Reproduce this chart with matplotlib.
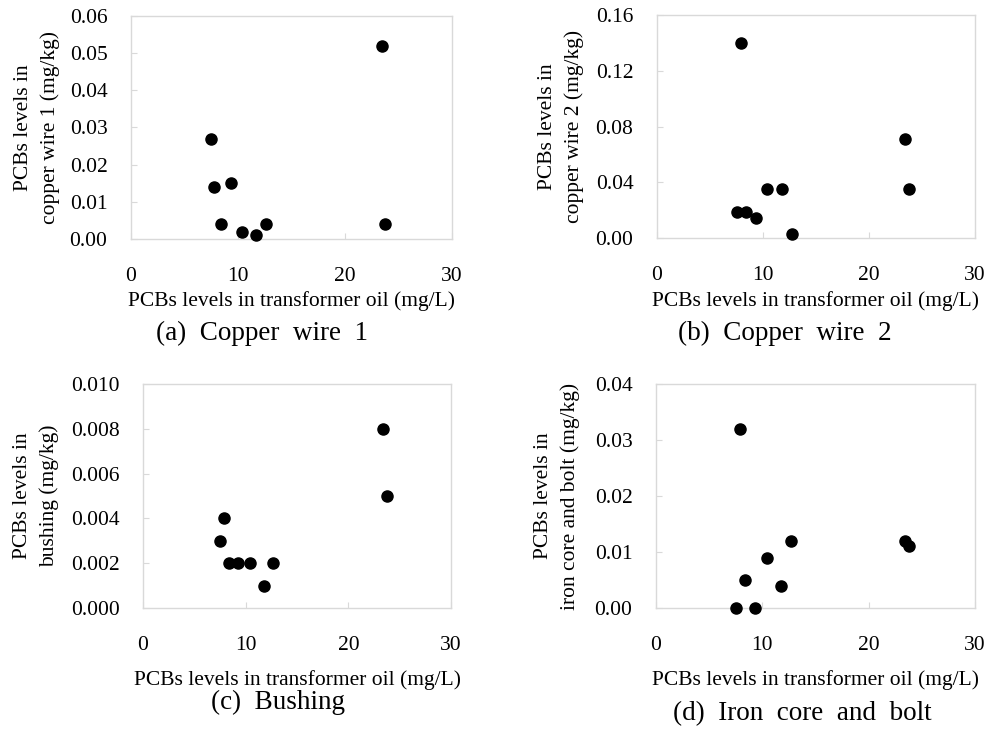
import matplotlib
matplotlib.use('Agg')
import matplotlib.pyplot as plt
import numpy as np

plt.rcParams['font.family'] = ['Liberation Serif', 'DejaVu Serif']

# PCB levels in transformer oil (mg/L), shared by all panels
oil = [7.5, 7.9, 8.4, 9.3, 10.4, 11.8, 12.7, 23.4, 23.8]
oil_a = [7.5, 7.8, 8.4, 9.3, 10.4, 11.7, 12.6, 23.5, 23.7]

copper1 = [0.027, 0.014, 0.004, 0.015, 0.002, 0.001, 0.004, 0.052, 0.004]
copper2 = [0.019, 0.140, 0.019, 0.014, 0.035, 0.035, 0.003, 0.071, 0.035]
bushing = [0.003, 0.004, 0.002, 0.002, 0.002, 0.001, 0.002, 0.008, 0.005]
iron = [0.000, 0.032, 0.005, 0.000, 0.009, 0.004, 0.012, 0.012, 0.011]

xticks = [0, 10, 20, 30]
ylabels = ['PCBs levels in\ncopper wire 1 (mg/kg)',
           'PCBs levels in\ncopper wire 2 (mg/kg)',
           'PCBs levels in\nbushing (mg/kg)',
           'PCBs levels in\niron core and bolt (mg/kg)']
captions = ['(a)  Copper  wire  1', '(b)  Copper  wire  2',
            '(c)  Bushing', '(d)  Iron  core  and  bolt']
xlabel = 'PCBs levels in transformer oil (mg/L)'

W, H = 991, 731
fig = plt.figure(figsize=(W / 100, H / 100), dpi=100)

def box(l, t, r, b):
    return [l / W, 1 - b / H, (r - l) / W, (b - t) / H]

panels = [
    # box, x, y, yticks, fmt, ylabel x, xlabel baseline, caption (x, baseline)
    (box(131, 16, 452, 239), oil_a, copper1, np.arange(0, 0.061, 0.01), '%.2f', 37, 306, (262, 340)),
    (box(657, 15, 975, 238), oil, copper2, np.arange(0, 0.161, 0.04), '%.2f', 561, 306, (785, 340)),
    (box(143, 384, 451, 608), oil, bushing, np.arange(0, 0.0101, 0.002), '%.3f', 36, 685, (278, 709)),
    (box(656, 384, 975, 608), oil, iron, np.arange(0, 0.041, 0.01), '%.2f', 557, 685, (802, 720)),
]

for i, (pos, xs, ys, yt, fmt, ylx, xlb, cap) in enumerate(panels):
    ax = fig.add_axes(pos)
    ax.plot(xs, ys, 'o', color='black', ms=8, clip_on=False, zorder=3)
    ax.set_xlim(0, 30)
    ax.set_ylim(yt[0], yt[-1])
    ax.set_xticks(xticks)
    ax.set_yticks(yt)
    ax.set_yticklabels([fmt % v for v in yt])
    for s in ax.spines.values():
        s.set_color('#d9d9d9')
        s.set_linewidth(1.0)
    ax.tick_params(direction='in', length=4, color='#d9d9d9', labelsize=15.5)
    ax.tick_params(axis='x', pad=20)
    ax.tick_params(axis='y', pad=17)
    ycen = pos[1] + pos[3] / 2
    fig.text(ylx / W, ycen, ylabels[i], rotation=90, ha='center', va='center',
             multialignment='center', fontsize=15.5, linespacing=1.55)
    xcen = pos[0] + pos[2] / 2
    fig.text(xcen, 1 - xlb / H, xlabel, ha='center', va='baseline', fontsize=15.5)
    fig.text(cap[0] / W, 1 - cap[1] / H, captions[i], ha='center', va='baseline', fontsize=19.5)

plt.savefig('out.png', dpi=100)
